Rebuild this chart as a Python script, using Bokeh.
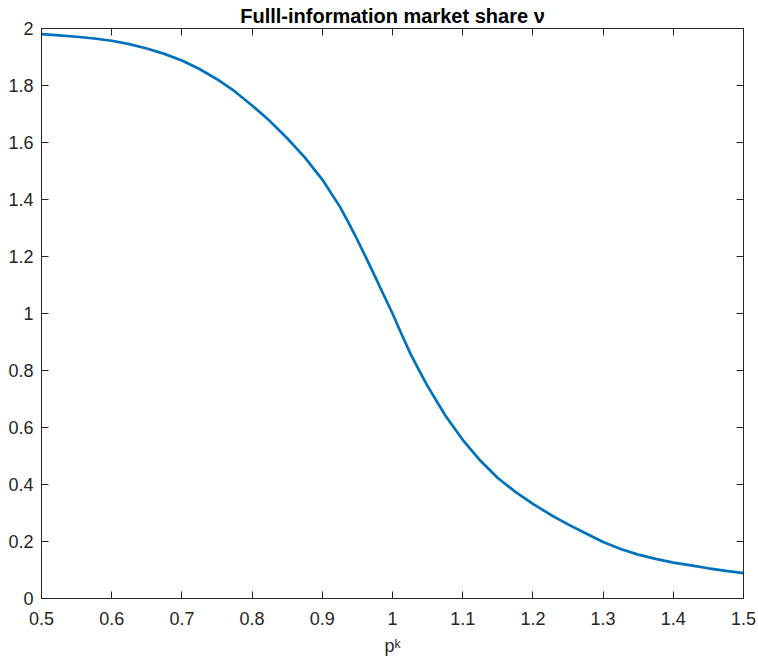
from bokeh.plotting import figure
from bokeh.models import Range1d, FixedTicker, LinearAxis, ColumnDataSource
from bokeh.embed import file_html
from bokeh.resources import INLINE

# ---- data ----
p_k = [0.5, 0.525, 0.55, 0.575, 0.6, 0.625, 0.65, 0.675, 0.7, 0.725, 0.75, 0.775, 0.8, 0.825,
       0.85, 0.875, 0.9, 0.925, 0.9375, 0.95, 0.9625, 0.975, 0.9875, 1.0, 1.0125, 1.025, 1.0375,
       1.05, 1.075, 1.1, 1.125, 1.15, 1.175, 1.2, 1.225, 1.25, 1.275, 1.3, 1.325, 1.35, 1.375,
       1.4, 1.425, 1.45, 1.475, 1.5]
nu = [1.980, 1.976, 1.971, 1.965, 1.957, 1.945, 1.930, 1.911, 1.888, 1.858, 1.822, 1.780, 1.730, 1.676,
      1.615, 1.548, 1.470, 1.375, 1.318, 1.258, 1.195, 1.130, 1.065, 1.000, 0.930, 0.862, 0.802,
      0.745, 0.643, 0.557, 0.484, 0.423, 0.374, 0.332, 0.294, 0.260, 0.229, 0.198, 0.174, 0.154, 0.139,
      0.126, 0.116, 0.106, 0.097, 0.089]

x_ticks = [0.5, 0.6, 0.7, 0.8, 0.9, 1.0, 1.1, 1.2, 1.3, 1.4, 1.5]
x_tick_labels = ["0.5", "0.6", "0.7", "0.8", "0.9", "1", "1.1", "1.2", "1.3", "1.4", "1.5"]
y_ticks = [0, 0.2, 0.4, 0.6, 0.8, 1.0, 1.2, 1.4, 1.6, 1.8, 2.0]
y_tick_labels = ["0", "0.2", "0.4", "0.6", "0.8", "1", "1.2", "1.4", "1.6", "1.8", "2"]

title_text = "Fulll-information market share \u03bd"
xlabel_text = "p\u1d4f"

FONT = "Liberation Sans"
AX = "#262626"

p = figure(width=758, height=661, output_backend="svg", toolbar_location=None,
           x_range=Range1d(0.5, 1.5), y_range=Range1d(0, 2), title=title_text,
           min_border_left=41, min_border_right=15, min_border_top=26, min_border_bottom=63)
p.title.text_font = FONT
p.title.text_font_size = "20px"
p.title.text_font_style = "bold"
p.title.text_color = "black"
p.title.align = "center"
p.title.standoff = 4
p.grid.visible = False
p.outline_line_color = AX
p.outline_line_width = 1
p.background_fill_color = "white"
p.border_fill_color = "white"

src = ColumnDataSource(dict(x=p_k, y=nu))
p.line("x", "y", source=src, line_color="#0072BD", line_width=2.7)


def style_axis(ax, ticks, labels, show_labels=True, standoff=8):
    ax.ticker = FixedTicker(ticks=ticks)
    ax.major_label_overrides = {t: l for t, l in zip(ticks, labels)} if show_labels else {t: "" for t in ticks}
    ax.minor_tick_line_color = None
    ax.major_tick_in = 7
    ax.major_tick_out = 0
    ax.major_tick_line_color = AX
    ax.axis_line_color = AX
    ax.major_label_text_font = FONT
    ax.major_label_text_font_size = "18px" if show_labels else "0px"
    ax.major_label_text_color = AX
    ax.major_label_standoff = standoff if show_labels else 0


style_axis(p.xaxis[0], x_ticks, x_tick_labels, standoff=13)
style_axis(p.yaxis[0], y_ticks, y_tick_labels, standoff=8)
p.xaxis[0].axis_label = xlabel_text
p.xaxis[0].axis_label_text_font = FONT
p.xaxis[0].axis_label_text_font_size = "18px"
p.xaxis[0].axis_label_text_font_style = "normal"
p.xaxis[0].axis_label_text_color = AX
p.xaxis[0].axis_label_standoff = 8

top_ax = LinearAxis()
style_axis(top_ax, x_ticks, x_tick_labels, show_labels=False)
p.add_layout(top_ax, "above")
right_ax = LinearAxis()
style_axis(right_ax, y_ticks, y_tick_labels, show_labels=False)
p.add_layout(right_ax, "right")

open("out.html", "w").write(file_html(p, INLINE))
